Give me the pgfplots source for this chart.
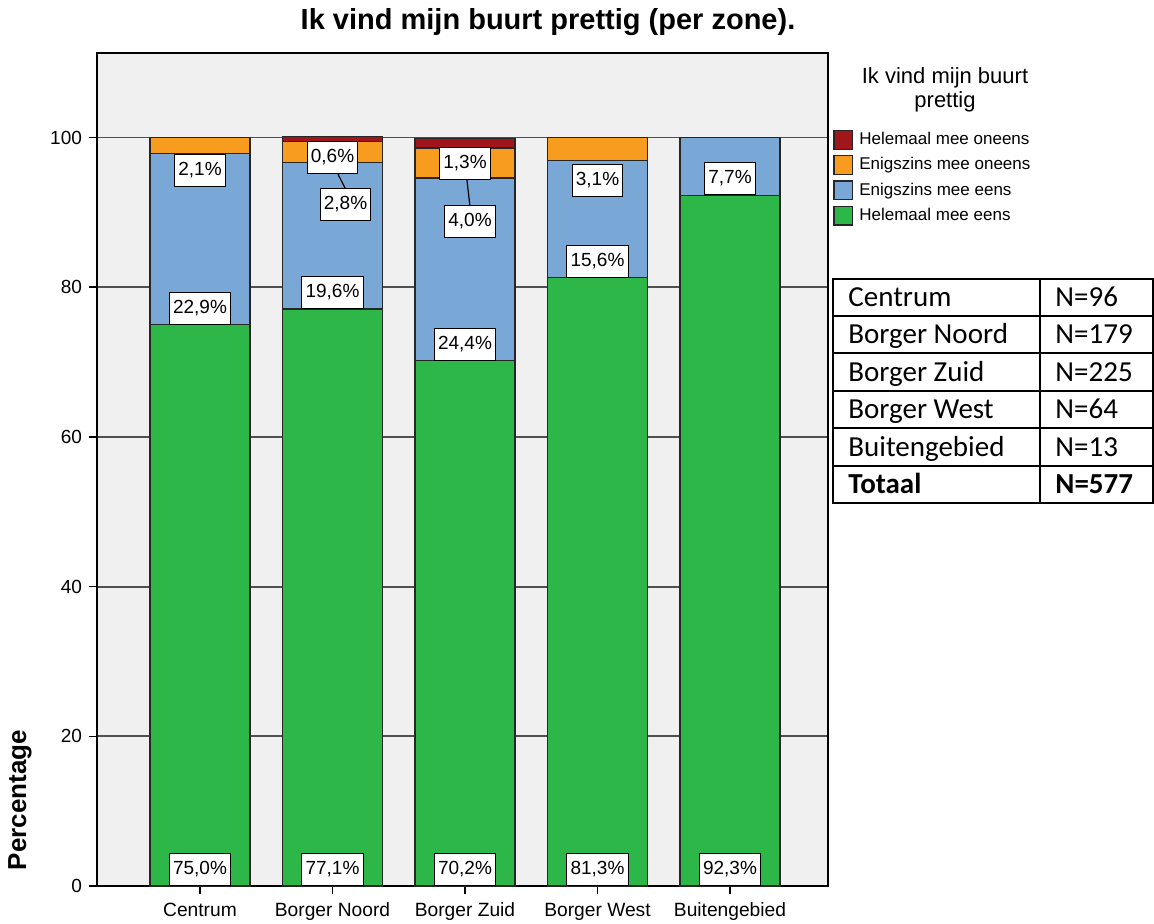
\documentclass[border=0pt]{standalone}
\usepackage{fontspec}
\setmainfont{Liberation Sans}
\newfontfamily\calfont{Carlito}
\usepackage{pgfplots}
\pgfplotsset{compat=1.18}
\definecolor{cgreen}{RGB}{46,183,73}
\definecolor{cblue}{RGB}{122,168,214}
\definecolor{corange}{RGB}{247,156,30}
\definecolor{cred}{RGB}{160,22,26}
\definecolor{gridc}{RGB}{80,80,80}

\pgfplotsset{
  frame/.style={
    at={(48.5pt,18.5pt)}, anchor=south west,
    scale only axis, width=365.5pt, height=416.5pt,
    xmin=-0.7774, xmax=4.7396, ymin=0, ymax=111.3},
}

\begin{document}
\begin{tikzpicture}[
  lbl/.style={draw=black, line width=0.5pt, fill=white, font=\fontsize{9.5}{11}\selectfont,
    inner xsep=1.8pt, inner ysep=3.5pt, text height=7pt, text depth=2pt}]
\path[use as bounding box] (0,0) rectangle (577pt,461.5pt);
\begin{axis}[
  frame,
  ybar stacked, bar width=50pt,
  xtick={0,1,2,3,4},
  xticklabels={Centrum,Borger Noord,Borger Zuid,Borger West,Buitengebied},
  ytick={0,20,40,60,80,100},
  tick pos=left, tick align=outside, major tick length=4pt,
  tick style={black, line width=0.8pt},
  ymajorgrids, grid style={gridc, line width=0.9pt},
  axis line style={black, line width=0.8pt},
  axis background/.style={fill=black!6},
  xticklabel style={font=\fontsize{9.6}{11}\selectfont, yshift=-1pt},
  yticklabel style={font=\fontsize{9.5}{11}\selectfont},
  /pgf/number format/assume math mode=true,
  reverse legend,
  legend cell align=left,
  legend image code/.code={\draw[#1, draw=black!85, line width=0.6pt] (0pt,-4.7pt) rectangle (9.4pt,4.7pt);},
  legend style={at={(1.0068,0.908)}, anchor=north west, draw=none, fill=none,
    inner sep=0pt, row sep=2.6pt, font=\fontsize{8.5}{10}\selectfont,
    nodes={inner ysep=0pt, inner xsep=3pt, text height=7pt, text depth=2.4pt}},
]
\addplot[fill=cgreen, draw=black!85, line width=0.6pt] coordinates {(0,75.0) (1,77.1) (2,70.2) (3,81.3) (4,92.3)};
\addplot[fill=cblue, draw=black!85, line width=0.6pt] coordinates {(0,22.9) (1,19.6) (2,24.4) (3,15.6) (4,7.7)};
\addplot[fill=corange, draw=black!85, line width=0.6pt] coordinates {(0,2.1) (1,2.8) (2,4.0) (3,3.1) (4,0)};
\addplot[fill=cred, draw=black!85, line width=0.6pt] coordinates {(0,0) (1,0.6) (2,1.3) (3,0) (4,0)};
\legend{Helemaal mee eens, Enigszins mee eens, Enigszins mee oneens, Helemaal mee oneens}
\end{axis}

% value labels in an overlay axis with the same frame
\begin{axis}[frame, hide axis, clip=false]
% green
\node[lbl, anchor=south] at (axis cs:0,0) {75,0\%};
\node[lbl, anchor=south] at (axis cs:1,0) {77,1\%};
\node[lbl, anchor=south] at (axis cs:2,0) {70,2\%};
\node[lbl, anchor=south] at (axis cs:3,0) {81,3\%};
\node[lbl, anchor=south] at (axis cs:4,0) {92,3\%};
% blue
\node[lbl, anchor=south] at (axis cs:0,75.0) {22,9\%};
\node[lbl, anchor=south] at (axis cs:1,77.1) {19,6\%};
\node[lbl, anchor=south] at (axis cs:2,70.2) {24,4\%};
\node[lbl, anchor=south] at (axis cs:3,81.3) {15,6\%};
\node[lbl, anchor=south] at (axis cs:4,92.3) {7,7\%};
% leader lines
\draw[black, line width=0.6pt] (axis cs:1.0415,95.1) -- (axis cs:1.102,93.0);
\draw[black, line width=0.6pt] (axis cs:2.0128,94.6) -- (axis cs:2.0377,90.76);
% orange / red
\node[lbl] at (axis cs:0,95.6) {2,1\%};
\node[lbl] at (axis cs:3,94.3) {3,1\%};
\node[lbl] at (axis cs:1,97.3) {0,6\%};
\node[lbl] at (axis cs:1.098,91.0) {2,8\%};
\node[lbl] at (axis cs:2,96.6) {1,3\%};
\node[lbl] at (axis cs:2.038,88.76) {4,0\%};
\end{axis}

% title, axis label, legend title
\node[font=\bfseries\fontsize{14.5}{16}\selectfont] at (274pt,450.5pt) {Ik vind mijn buurt prettig (per zone).};
\node[rotate=90, font=\bfseries\fontsize{13}{15}\selectfont] at (10pt,61.5pt) {Percentage};
\node[font=\fontsize{11}{12}\selectfont, align=center] at (472.5pt,416.5pt) {Ik vind mijn buurt\\prettig};

% N table
\begin{scope}[line width=1pt]
\draw (416.5pt,210pt) rectangle (576.5pt,322pt);
\draw (520pt,210pt) -- (520pt,322pt);
\foreach \y in {303.5,285,266,247.5,228.5} \draw (416.5pt,\y pt) -- (576.5pt,\y pt);
\end{scope}
\foreach \n/\v/\c in {Centrum/96/312.75, Borger Noord/179/294.25, Borger Zuid/225/275.5, Borger West/64/256.75, Buitengebied/13/238} {
  \node[anchor=base west, inner sep=0pt, font=\calfont\fontsize{14.5}{16}\selectfont] at (424pt,\c pt-4.7pt) {\n};
  \node[anchor=base west, inner sep=0pt, font=\calfont\fontsize{14.5}{16}\selectfont] at (527.5pt,\c pt-4.7pt) {N=\v};
}
\node[anchor=base west, inner sep=0pt, font=\calfont\bfseries\fontsize{14.5}{16}\selectfont] at (424pt,214.55pt) {Totaal};
\node[anchor=base west, inner sep=0pt, font=\calfont\bfseries\fontsize{14.5}{16}\selectfont] at (527.5pt,214.55pt) {N=577};
\end{tikzpicture}
\end{document}
